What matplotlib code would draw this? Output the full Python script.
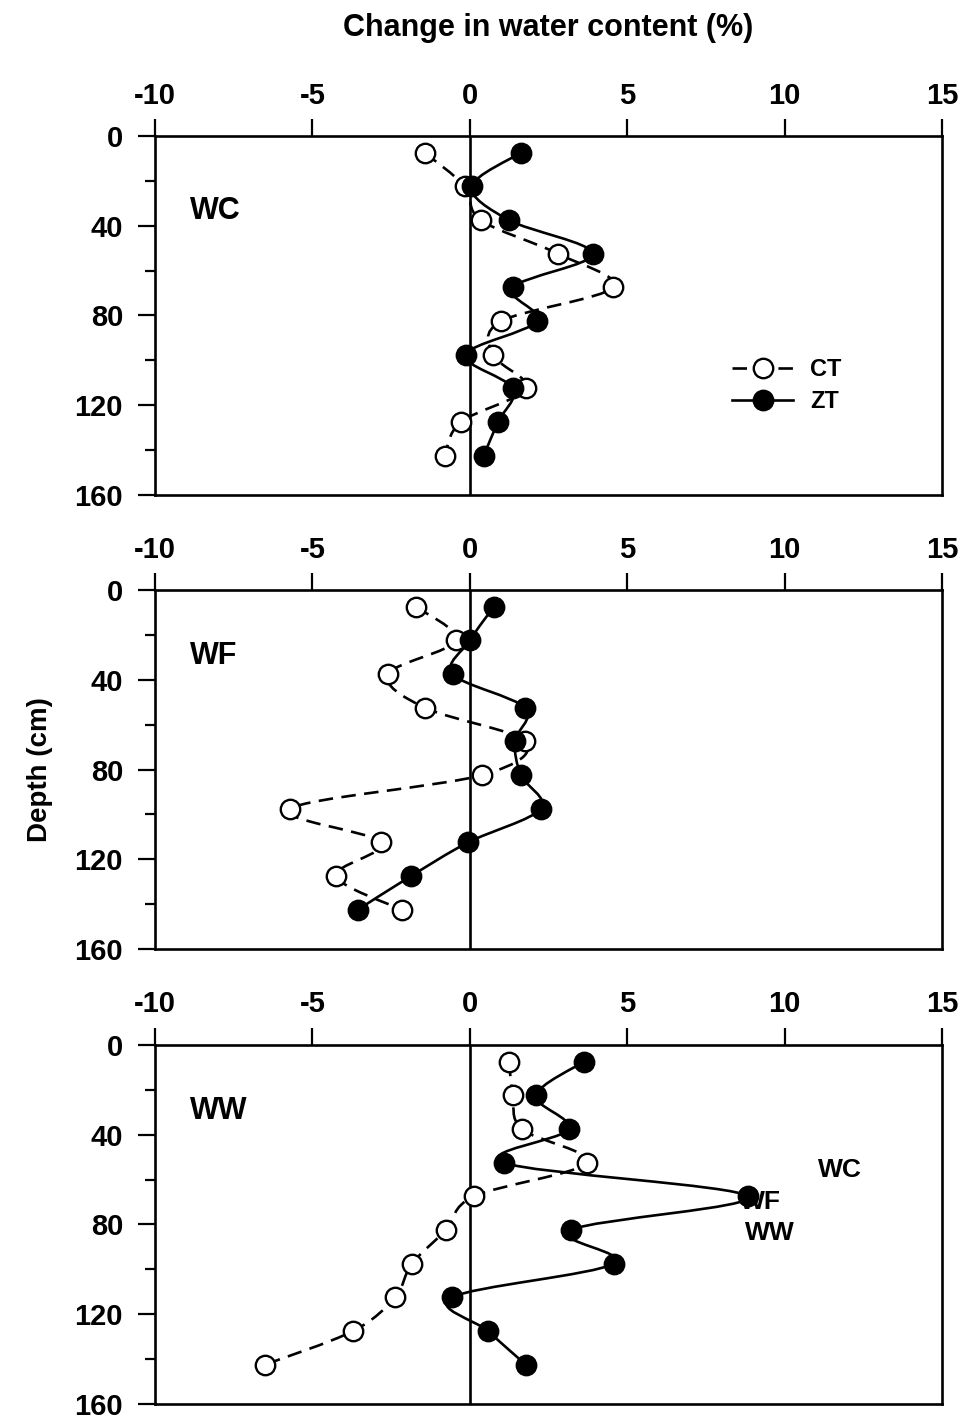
import numpy as np
import matplotlib
matplotlib.use("Agg")
import matplotlib.pyplot as plt
from matplotlib.path import Path
from matplotlib.patches import PathPatch
from matplotlib.lines import Line2D
from matplotlib.ticker import MultipleLocator

plt.rcParams['font.family'] = ['Liberation Sans', 'DejaVu Sans']

depth = [7.5, 22.5, 37.5, 52.5, 67.5, 82.5, 97.5, 112.5, 127.5, 142.5]

wc_ct = [-1.43, -0.16, 0.35, 2.8, 4.54, 1.0, 0.73, 1.78, -0.29, -0.79]
wc_zt = [1.62, 0.06, 1.24, 3.9, 1.37, 2.13, -0.13, 1.37, 0.89, 0.44]

wf_ct = [-1.71, -0.44, -2.6, -1.43, 1.75, 0.38, -5.71, -2.83, -4.25, -2.16]
wf_zt = [0.76, 0.0, -0.54, 1.75, 1.43, 1.62, 2.25, -0.06, -1.87, -3.56]

ww_ct = [1.24, 1.37, 1.65, 3.71, 0.13, -0.76, -1.84, -2.38, -3.71, -6.51]
ww_zt = [3.62, 2.1, 3.14, 1.08, 8.83, 3.21, 4.57, -0.57, 0.57, 1.78]

panels = ["WC", "WF", "WW"]
series = [(wc_ct, wc_zt), (wf_ct, wf_zt), (ww_ct, ww_zt)]
xticks = [-10, -5, 0, 5, 10, 15]
yticks = [0, 40, 80, 120, 160]


def smooth_path(xs, ys):
    P = np.column_stack([xs, ys]).astype(float)
    n = len(P)
    verts = [P[0]]
    codes = [Path.MOVETO]
    for i in range(n - 1):
        p0 = P[i - 1] if i > 0 else P[i]
        p1 = P[i]
        p2 = P[i + 1]
        p3 = P[i + 2] if i + 2 < n else P[i + 1]
        c1 = p1 + (p2 - p0) / 6.0
        c2 = p2 - (p3 - p1) / 6.0
        verts += [c1, c2, p2]
        codes += [Path.CURVE4] * 3
    return Path(verts, codes)


fig = plt.figure(figsize=(9.67, 14.22), dpi=100)
left, width = 0.1603, 0.8139
bottoms = [0.6519, 0.3326, 0.0127]
height = 0.2525
lw = 1.9
ms = 14
dash = (0, (5.5, 3.2))

for k, (name, (ct, zt), b) in enumerate(zip(panels, series, bottoms)):
    ax = fig.add_axes([left, b, width, height])
    ax.set_xlim(-10, 15)
    ax.set_ylim(160, 0)
    ax.axvline(0, color='black', lw=lw, zorder=1)
    ax.add_patch(PathPatch(smooth_path(ct, depth), fill=False, edgecolor='black',
                           lw=lw, linestyle=dash, zorder=2))
    ax.add_patch(PathPatch(smooth_path(zt, depth), fill=False, edgecolor='black',
                           lw=lw, zorder=2))
    ax.plot(ct, depth, ls='none', marker='o', ms=ms, mfc='white', mec='black',
            mew=1.7, zorder=4)
    ax.plot(zt, depth, ls='none', marker='o', ms=ms, mfc='black', mec='black',
            mew=1.7, zorder=4)

    ax.xaxis.tick_top()
    ax.set_xticks(xticks)
    ax.set_xticklabels([str(t) for t in xticks], fontweight='bold')
    ax.set_yticks(yticks)
    ax.set_yticklabels([str(t) for t in yticks], fontweight='bold')
    ax.yaxis.set_minor_locator(MultipleLocator(20))
    ax.tick_params(axis='x', which='major', direction='out', length=12, width=1.6,
                   labelsize=21, pad=7, top=True, bottom=False)
    ax.tick_params(axis='y', which='major', direction='out', length=12, width=1.6,
                   labelsize=21, pad=11, left=True, right=False)
    ax.tick_params(axis='y', which='minor', direction='out', length=7, width=1.6,
                   left=True, right=False)
    for s in ax.spines.values():
        s.set_linewidth(1.9)

    ax.text(0.044, 0.79 if k == 0 else 0.815, name, transform=ax.transAxes,
            fontsize=22, fontweight='bold', ha='left', va='center')

    if k == 0:
        handles = [
            Line2D([], [], color='black', lw=lw, linestyle=dash, marker='o',
                   ms=ms, mfc='white', mec='black', mew=1.7),
            Line2D([], [], color='black', lw=lw, marker='o', ms=ms, mfc='black',
                   mec='black', mew=1.7),
        ]
        ax.legend(handles, ["CT", "ZT"], loc='center left',
                  bbox_to_anchor=(0.733, 0.305), frameon=False, borderaxespad=0,
                  borderpad=0, handlelength=2.6, handletextpad=0.7,
                  labelspacing=0.4, prop={'size': 17, 'weight': 'bold'})
    if k == 2:
        ax.text(11.05, 55.7, "WC", fontsize=19, fontweight='bold', ha='left', va='center')
        ax.text(8.57, 70.0, "WF", fontsize=19, fontweight='bold', ha='left', va='center')
        ax.text(8.73, 83.8, "WW", fontsize=19, fontweight='bold', ha='left', va='center')

fig.text(0.5667, 0.980, "Change in water content (%)", fontsize=22,
         fontweight='bold', ha='center', va='center')
fig.text(0.041, 0.4585, "Depth (cm)", fontsize=20, fontweight='bold', rotation=90,
         ha='center', va='center')

fig.savefig("out.png", dpi=100)
